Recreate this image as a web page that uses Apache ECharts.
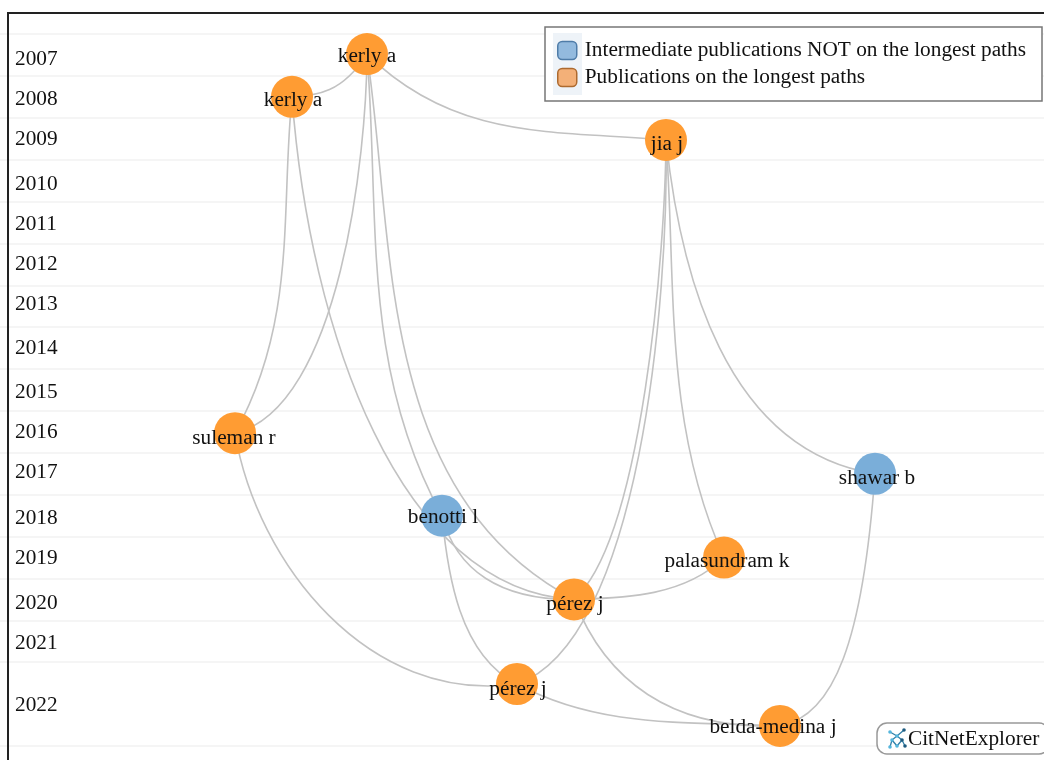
<!DOCTYPE html>
<html>
<head>
<meta charset="utf-8">
<style>html,body{margin:0;padding:0;background:#fff}#c{width:1044px;height:760px}</style>
<script src="https://cdn.jsdelivr.net/npm/echarts@6/dist/echarts.min.js"></script>
</head>
<body>
<div id="c"></div>
<script>
// Publications: author labels, lane across the map, drawing year position, group
const nodeNames = ['kerly a','kerly a','jia j','suleman r','shawar b','benotti l','palasundram k','pérez j','pérez j','belda-medina j'];
const nodeLanes = [367,292,666,235,875,442,724,574,517,780];
const nodeYears = [2007.48,2008.5,2009.53,2016.53,2017.5,2018.5,2019.5,2020.5,2022.52,2023.52];
const nodeGroups = [1,1,1,1,0,0,1,1,1,1];
const labelShift = [[0,2],[1,4],[1,4],[-1,5],[2,5],[1,2],[3,4],[1,5],[1,5],[-7,2]];
// Citation links: source, target and two route points (lane, year)
const linkSources = [0,0,0,1,1,0,0,5,5,2,2,2,2,6,3,7,8,4];
const linkTargets = [1,2,3,3,7,5,7,7,8,7,8,6,4,7,8,9,9,9];
const routeLaneA = [342,460,356,286,334,374,389,466,451,657,656,672,693,677,285,617,604,857];
const routeYearA = [2008.15,2008.89,2010.73,2011.18,2014.04,2011.23,2012.3,2019.6,2019.99,2013.23,2014.35,2012.87,2012.87,2020.18,2019.58,2022.16,2023.24,2020.78];
const routeLaneB = [317,560,316,275,427,389,438,510,473,628,611,684,757,624,383,685,692,826];
const routeYearB = [2008.43,2009.36,2014.43,2013.85,2018.53,2014.9,2017,2020.28,2021.47,2017.6,2019.54,2016.22,2015.88,2020.44,2021.88,2023.21,2023.45,2022.74];
// Year axis
const yearLabels = ['2007','2008','2009','2010','2011','2012','2013','2014','2015','2016','2017','2018','2019','2020','2021','2022'];
const yearLabelPos = [2007.6,2008.56,2009.51,2010.59,2011.54,2012.5,2013.45,2014.5,2015.55,2016.51,2017.47,2018.56,2019.52,2020.59,2021.55,2023.03];
const yearLines = [2007,2008,2009,2010,2011,2012,2013,2014,2015,2016,2017,2018,2019,2020,2021,2022,2024];
const groupNames = ['Intermediate publications NOT on the longest paths','Publications on the longest paths'];
const groupColors = ['#7aaed9','#ff9c33'];

const FONT = '"Liberation Serif","Times New Roman",serif';
const chart = echarts.init(document.getElementById('c'), null, {renderer:'canvas'});

const edgeData = linkSources.map((s,i)=>{
  const t=linkTargets[i];
  return [nodeLanes[s],nodeYears[s],routeLaneA[i],routeYearA[i],routeLaneB[i],routeYearB[i],nodeLanes[t],nodeYears[t]];
});
function groupData(g){
  return nodeNames.map((n,i)=>({name:n,value:[nodeLanes[i],nodeYears[i]],group:nodeGroups[i],label:{offset:labelShift[i]}}))
    .filter(d=>d.group===g);
}
function renderEdge(params,api){
  const A=api.coord([api.value(0),api.value(1)]);
  const P=api.coord([api.value(2),api.value(3)]);
  const Q=api.coord([api.value(4),api.value(5)]);
  const B=api.coord([api.value(6),api.value(7)]);
  const c=k=>[(-5*A[k]+18*P[k]-9*Q[k]+2*B[k])/6,(2*A[k]-9*P[k]+18*Q[k]-5*B[k])/6];
  const cx=c(0),cy=c(1);
  return {type:'bezierCurve',silent:true,
    shape:{x1:A[0],y1:A[1],x2:B[0],y2:B[1],cpx1:cx[0],cpy1:cy[0],cpx2:cx[1],cpy2:cy[1]},
    style:{fill:null,stroke:'#c2c2c2',lineWidth:1.6}};
}
function logoIcon(){
  const pts=[[1,2],[15,0],[8,6],[3,10],[13,10],[1,17],[8,16],[16,16]];
  const segs=[[0,2],[1,2],[2,3],[2,4],[3,5],[3,6],[4,6],[4,7]];
  const out=[];
  segs.forEach(s=>out.push({type:'line',z:5,shape:{x1:pts[s[0]][0],y1:pts[s[0]][1],x2:pts[s[1]][0],y2:pts[s[1]][1]},style:{stroke:'#2f7ea6',lineWidth:1.3}}));
  pts.forEach((p,i)=>out.push({type:'circle',z:6,shape:{cx:p[0],cy:p[1],r:1.8},style:{fill:i%3===1?'#1d5b80':'#55b6dc'}}));
  return out;
}
const nodeSeries=g=>({
  type:'scatter',name:groupNames[g],z:3,symbol:'circle',symbolSize:42,silent:true,
  itemStyle:{color:groupColors[g],opacity:1},
  label:{show:true,position:'inside',color:'#111',fontFamily:FONT,fontSize:21.3,formatter:'{b}'},
  data:groupData(g)
});

chart.setOption({
  animation:false,
  backgroundColor:'#fff',
  grid:{left:0,right:0,top:34,bottom:14},
  xAxis:{type:'value',min:0,max:1044,show:false},
  yAxis:{type:'value',inverse:true,min:2007,max:2024,interval:1,
    axisLine:{show:false},axisTick:{show:false},splitLine:{show:false},
    axisLabel:{inside:true,margin:15,customValues:yearLabelPos,color:'#111',fontFamily:FONT,fontSize:21.3,
      formatter:v=>{const i=yearLabelPos.indexOf(v);return i>=0?yearLabels[i]:'';}}
  },
  legend:{orient:'vertical',left:552,top:35,itemWidth:19,itemHeight:18,itemGap:6,icon:'roundRect',z:10,
    selectedMode:false,
    textStyle:{fontFamily:FONT,fontSize:21.3,color:'#111',padding:[2,0,0,3]},
    data:[
      {name:groupNames[0],itemStyle:{color:'#93bade',borderColor:'#4f7ca8',borderWidth:1.5}},
      {name:groupNames[1],itemStyle:{color:'#f3b078',borderColor:'#ad6a2f',borderWidth:1.5}}
    ]},
  graphic:[
    {type:'polyline',z:20,shape:{points:[[8,760],[8,13],[1044,13]]},style:{stroke:'#222',lineWidth:2,fill:null}},
    {type:'rect',z:3,shape:{x:545,y:27,width:497,height:74},style:{fill:'#fff',stroke:'#777',lineWidth:1.5}},
    {type:'rect',z:4,shape:{x:553,y:33,width:29,height:62},style:{fill:'#eef3f8'}},
    {type:'rect',z:3,shape:{x:877,y:723,width:172,height:31,r:10},style:{fill:'#fff',stroke:'#999',lineWidth:1.5}},
    {type:'group',x:889,y:730,children:logoIcon()},
    {type:'text',z:4,x:908,y:739,style:{text:'CitNetExplorer',font:'21.3px '+FONT,fill:'#111',textVerticalAlign:'middle'}}
  ],
  series:[
    {type:'custom',name:'links',z:2,silent:true,coordinateSystem:'cartesian2d',renderItem:renderEdge,
     encode:{x:[0,2,4,6],y:[1,3,5,7]},data:edgeData,
     markLine:{silent:true,symbol:'none',z:1,animation:false,label:{show:false},
       lineStyle:{color:'#f2f2f2',width:1.5,type:'solid'},
       data:yearLines.map(v=>({yAxis:v}))}},
    nodeSeries(0),
    nodeSeries(1)
  ]
});
</script>
</body>
</html>
